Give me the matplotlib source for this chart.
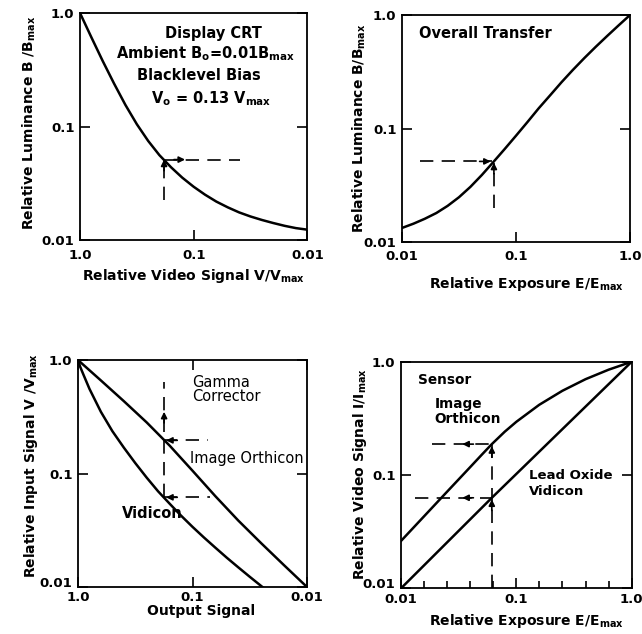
import numpy as np
import matplotlib
matplotlib.use("Agg")
import matplotlib.pyplot as plt
from matplotlib.ticker import FixedLocator, NullLocator

plt.rcParams['font.family'] = ['DejaVu Sans']
plt.rcParams['font.weight'] = 'bold'
plt.rcParams['axes.labelweight'] = 'bold'
plt.rcParams['mathtext.fontset'] = 'dejavusans'
plt.rcParams['mathtext.default'] = 'bf'

# --- data ---
# display CRT: relative video signal vs relative luminance
crt_v = [1.0, 0.794, 0.631, 0.501, 0.398, 0.316, 0.251, 0.2, 0.158, 0.126, 0.1,
         0.0794, 0.0631, 0.0501, 0.0398, 0.0316, 0.0251, 0.02, 0.0158, 0.0126, 0.01]
crt_b = [1.0, 0.611, 0.378, 0.239, 0.155, 0.105, 0.0748, 0.0561, 0.0439, 0.0356, 0.0296,
         0.0252, 0.0219, 0.0195, 0.0176, 0.0162, 0.0151, 0.0142, 0.0134, 0.0128, 0.0124]

# overall transfer: exposure vs luminance
ovr_e = [0.01, 0.0126, 0.0158, 0.02, 0.0251, 0.0316, 0.0398, 0.0501, 0.0631, 0.0794, 0.1,
         0.126, 0.158, 0.2, 0.251, 0.316, 0.398, 0.501, 0.631, 0.794, 1.0]
ovr_b = [0.0133, 0.0145, 0.016, 0.018, 0.0208, 0.0248, 0.0306, 0.0389, 0.0505, 0.0658, 0.0864,
         0.114, 0.1505, 0.197, 0.256, 0.329, 0.418, 0.525, 0.654, 0.81, 1.0]

# gamma corrector: output signal vs input signal
gc_io_out = [1.0, 0.631, 0.398, 0.251, 0.158, 0.1, 0.0631, 0.0398, 0.0251, 0.0158, 0.01]
gc_io_in = [1.0, 0.661, 0.4345, 0.2818, 0.1758, 0.1059, 0.0631, 0.0385, 0.0243, 0.0155, 0.01]
gc_vid_out = [1.0, 0.955, 0.891, 0.794, 0.631, 0.501, 0.398, 0.316, 0.251, 0.2, 0.158, 0.126,
              0.1, 0.0794, 0.0631, 0.0501, 0.0398, 0.0316, 0.0251, 0.0224]
gc_vid_in = [1.0, 0.867, 0.733, 0.557, 0.3496, 0.2363, 0.1693, 0.1236, 0.0919, 0.0698, 0.0541, 0.0426,
             0.0339, 0.0273, 0.0222, 0.0181, 0.0149, 0.0123, 0.0102, 0.0093]

# sensor: exposure vs video signal
io_e = [0.01, 0.0251, 0.0398, 0.0501, 0.0613, 0.0794, 0.1, 0.158, 0.251, 0.398, 0.631, 1.0]
io_i = [0.0262, 0.0713, 0.1175, 0.151, 0.1875, 0.2415, 0.2951, 0.417, 0.5546, 0.7015, 0.851, 1.0]
lead_e = [0.01, 0.0613, 1.0]
lead_i = [0.01, 0.063, 1.0]
minor_e = [0.0158, 0.0251, 0.0398, 0.0631, 0.158, 0.251, 0.398, 0.631]

decades = [0.01, 0.1, 1.0]
decade_labels = ['0.01', '0.1', '1.0']

fig = plt.figure(figsize=(6.42, 6.34), dpi=100)
ax1 = fig.add_axes([0.1246, 0.621, 0.354, 0.3585])
ax2 = fig.add_axes([0.6262, 0.6183, 0.3551, 0.358])
ax3 = fig.add_axes([0.1215, 0.0741, 0.3567, 0.358])
ax4 = fig.add_axes([0.6246, 0.072, 0.3593, 0.3574])

dash = dict(color='black', lw=1.2, dashes=(8, 5))
fs = 9.5     # tick labels
fl = 10      # axis labels
ft = 10.5    # notes inside panels


def setup(ax, reverse_x, top=False, pad=6):
    ax.set_xscale('log')
    ax.set_yscale('log')
    if reverse_x:
        ax.set_xlim(1.0, 0.01)
    else:
        ax.set_xlim(0.01, 1.0)
    ax.set_ylim(0.01, 1.0)
    ax.set_xticks(decades)
    ax.set_xticklabels(decade_labels)
    ax.set_yticks(decades)
    ax.set_yticklabels(decade_labels)
    ax.xaxis.set_minor_locator(NullLocator())
    ax.yaxis.set_minor_locator(NullLocator())
    ax.tick_params(direction='in', length=7, width=1.2, top=top, right=True,
                   labelsize=fs)
    ax.tick_params(axis='x', pad=pad)
    ax.tick_params(axis='y', pad=4)
    for s in ax.spines.values():
        s.set_linewidth(1.3)


def arrow(ax, tip, dx, dy):
    ax.annotate('', xy=tip, xytext=(dx, dy), textcoords='offset points',
                arrowprops=dict(arrowstyle='-|>', color='black', lw=1.2,
                                mutation_scale=9, shrinkA=0, shrinkB=0))


def note(ax, x, y, s, ha='left', size=ft, weight='bold'):
    ax.text(x, y, s, transform=ax.transAxes, ha=ha, va='baseline',
            fontsize=size, fontweight=weight)


# panel 1: display CRT
setup(ax1, True)
ax1.plot(crt_v, crt_b, color='black', lw=1.8)
ax1.plot([0.182, 0.182], [0.0228, 0.0513], **dash)
ax1.plot([0.182, 0.0391], [0.0513, 0.0513], **dash)
arrow(ax1, (0.182, 0.0513), 0, -8)
arrow(ax1, (0.119, 0.0513), -8, 0)
note(ax1, 0.585, 0.89, 'Display CRT', 'center')
note(ax1, 0.55, 0.802, r'Ambient B$_o$=0.01B$_{max}$', 'center')
note(ax1, 0.521, 0.707, 'Blacklevel Bias', 'center')
note(ax1, 0.576, 0.604, r'V$_o$ = 0.13 V$_{max}$', 'center')
ax1.set_xlabel(r'Relative Video Signal V/V$_{max}$', fontsize=fl)
ax1.set_ylabel(r'Relative Luminance B /B$_{max}$', fontsize=fl)
ax1.xaxis.set_label_coords(0.4995, -0.117)
ax1.yaxis.set_label_coords(-0.185, 0.516)

# panel 2: overall transfer
setup(ax2, False)
ax2.plot(ovr_e, ovr_b, color='black', lw=1.8)
ax2.plot([0.0143, 0.062], [0.0513, 0.0513], **dash)
ax2.plot([0.064, 0.064], [0.02, 0.05], **dash)
arrow(ax2, (0.06, 0.0513), -8, 0)
arrow(ax2, (0.064, 0.05), 0, -8)
note(ax2, 0.073, 0.897, 'Overall Transfer')
ax2.set_xlabel(r'Relative Exposure E/E$_{max}$', fontsize=fl)
ax2.set_ylabel(r'Relative Luminance B/B$_{max}$', fontsize=fl)
ax2.xaxis.set_label_coords(0.544, -0.145)
ax2.yaxis.set_label_coords(-0.149, 0.502)

# panel 3: gamma corrector
setup(ax3, True, top=True, pad=3)
ax3.plot(gc_io_out, gc_io_in, color='black', lw=1.8)
ax3.plot(gc_vid_out, gc_vid_in, color='black', lw=1.8)
ax3.plot([0.177, 0.177], [0.0617, 0.644], **dash)
ax3.plot([0.177, 0.0728], [0.196, 0.196], **dash)
ax3.plot([0.177, 0.07], [0.0617, 0.0617], **dash)
arrow(ax3, (0.177, 0.35), 0, -8)
arrow(ax3, (0.17, 0.196), 8, 0)
arrow(ax3, (0.17, 0.0617), 8, 0)
note(ax3, 0.497, 0.882, 'Gamma', weight='normal')
note(ax3, 0.497, 0.819, 'Corrector', weight='normal')
note(ax3, 0.489, 0.545, 'Image Orthicon', weight='normal')
note(ax3, 0.19, 0.303, 'Vidicon')
ax3.set_xlabel('Output Signal', fontsize=fl)
ax3.set_ylabel(r'Relative Input Signal V /V$_{max}$', fontsize=fl)
ax3.xaxis.set_label_coords(0.537, -0.075)
ax3.yaxis.set_label_coords(-0.166, 0.537)
ax3.yaxis.get_major_ticks()[0].label1.set_va('baseline')

# panel 4: sensor
setup(ax4, False, pad=3)
ax4.xaxis.set_minor_locator(FixedLocator(minor_e))
ax4.tick_params(axis='x', which='minor', direction='in', length=5, width=1.2, bottom=True, top=False)
ax4.plot(io_e, io_i, color='black', lw=1.8)
ax4.plot(lead_e, lead_i, color='black', lw=1.8)
ax4.plot([0.0613, 0.0613], [0.01, 0.1875], **dash)
ax4.plot([0.0184, 0.0613], [0.1875, 0.1875], **dash)
ax4.plot([0.0132, 0.0613], [0.063, 0.063], **dash)
arrow(ax4, (0.034, 0.1875), 8, 0)
arrow(ax4, (0.034, 0.063), 8, 0)
arrow(ax4, (0.0613, 0.18), 0, -8)
arrow(ax4, (0.0613, 0.061), 0, -8)
note(ax4, 0.072, 0.902, 'Sensor', size=9.8)
note(ax4, 0.145, 0.794, 'Image', size=9.8)
note(ax4, 0.145, 0.728, 'Orthicon', size=9.8)
note(ax4, 0.556, 0.481, 'Lead Oxide', size=9.5)
note(ax4, 0.556, 0.412, 'Vidicon', size=9.5)
ax4.set_xlabel(r'Relative Exposure E/E$_{max}$', fontsize=fl)
ax4.set_ylabel(r'Relative Video Signal I/I$_{max}$', fontsize=fl)
ax4.xaxis.set_label_coords(0.546, -0.105)
ax4.yaxis.set_label_coords(-0.139, 0.504)
ax4.yaxis.get_major_ticks()[0].label1.set_va('baseline')

fig.savefig('out.png', dpi=100)
